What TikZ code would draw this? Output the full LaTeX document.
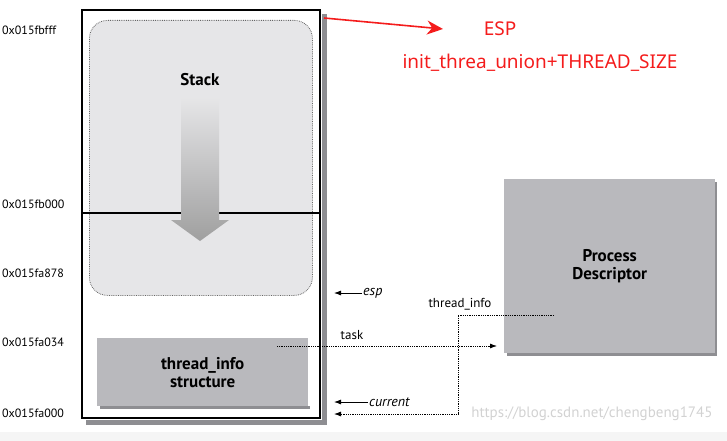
\documentclass[tikz,border=0pt]{standalone}
\usepackage{fontspec}
\setmainfont{PT Sans}
\newfontfamily\notefont{Noto Sans}
\usepackage{xcolor}
\definecolor{boxgray}{HTML}{B9B9BD}
\definecolor{stackgray}{HTML}{E6E6E8}
\definecolor{shadowgray}{HTML}{8E8E92}
\definecolor{notered}{HTML}{F41C1C}
\usepackage{tikz}
\usetikzlibrary{positioning,arrows.meta,calc}

\begin{document}
\begin{tikzpicture}[x=1pt, y=-1pt,
    addr/.style={anchor=west, font=\fontsize{12}{14}\selectfont, inner sep=0pt},
    gbox/.style={fill=boxgray, anchor=north west, align=center, inner sep=0pt,
      font=\fontsize{17}{18}\selectfont\bfseries},
    shadowfill/.style={fill=shadowgray},
    ptr/.style={-{Latex[length=7pt,width=5pt]}, thick},
    dptr/.style={densely dotted, thick},
    lbl/.style={font=\fontsize{13}{14}\selectfont, inner sep=1pt}]
  \useasboundingbox (0,0) rectangle (727,441);
  \fill[gray!8] (0,432) rectangle (727,441);

  % memory area
  \node[draw, line width=2pt, fill=white, anchor=north west,
    minimum width=238, minimum height=408, inner sep=0pt] (mem) at (81,9) {};
  \path[shadowfill] ([xshift=1pt,yshift=-5pt]mem.north east) rectangle ([xshift=6pt,yshift=-6pt]mem.south east);
  \path[shadowfill] ([xshift=5pt,yshift=-1pt]mem.south west) rectangle ([xshift=6pt,yshift=-6pt]mem.south east);
  \node[draw=gray!80!black, densely dotted, thick, rounded corners=18pt, fill=stackgray,
    anchor=north west, minimum width=223, minimum height=275, inner sep=0pt] (stackarea) at (89,20) {};
  \draw[line width=1.3pt] (mem.west |- 0,213) -- (mem.east |- 0,213);
  \shade[top color=stackgray, bottom color=gray!75]
    (181,97) -- (219,97) -- (219,220) -- (229,220) -- (200,241) -- (171,220) -- (181,220) -- cycle;
  \node[font=\fontsize{17}{18}\selectfont\bfseries] (stack) at (200,80) {Stack};

  \node[gbox, minimum width=211, minimum height=68] (tinfo) at (97,338) {thread\_info\\structure};
  \path[shadowfill] ([xshift=3pt]tinfo.south west) rectangle ([xshift=2pt,yshift=-3pt]tinfo.south east);

  % process descriptor
  \node[gbox, minimum width=211, minimum height=174] (pd) at (504,179) {Process\\Descriptor};
  \path[shadowfill] ([xshift=3pt]pd.south west) rectangle ([xshift=2pt,yshift=-3pt]pd.south east);
  \path[shadowfill] ([yshift=-3pt]pd.north east) rectangle ([xshift=2pt]pd.south east);

  % addresses
  \foreach \a/\y in {0x015fbfff/30, 0x015fb000/204, 0x015fa878/273, 0x015fa034/342, 0x015fa000/413}
    \node[addr] (addr\y) at (2,\y) {\a};

  % pointers
  \coordinate (espfrom) at (362,293);
  \coordinate (esptip) at (334,293);
  \draw[ptr] (espfrom) -- (esptip);
  \node[lbl, anchor=west, font=\fontsize{14}{15}\selectfont\itshape] (esp) at (espfrom) {esp};

  \coordinate (taskfrom) at (277,346);
  \draw[dptr, -{Latex[length=7pt,width=5pt]}] (taskfrom) -- ($(pd.west |- taskfrom)+(-7,0)$);
  \node[lbl] (task) at (352,335) {task};

  \coordinate (tifrom) at (554,315);
  \coordinate (tibend) at (458,315);
  \coordinate (ticorner) at (458,414);
  \coordinate (titip) at (334,414);
  \draw[dptr, -{Latex[length=7pt,width=5pt]}] (tifrom) -- (tibend) -- (ticorner) -- (titip);
  \node[lbl, anchor=south] (tilabel) at (460,311) {thread\_info};

  \coordinate (curfrom) at (368,402);
  \coordinate (curtip) at (334,402);
  \draw[ptr] (curfrom) -- (curtip);
  \node[lbl, anchor=west, font=\fontsize{14}{15}\selectfont\itshape] (current) at (curfrom) {current};

  % note in red
  \coordinate (notefrom) at (324,18);
  \node[text=notered, font=\notefont\fontsize{19}{20}\selectfont] (espnote) at (500,29) {ESP};
  \node[text=notered, font=\notefont\fontsize{19}{20}\selectfont] (sizenote) at (540,63) {init\_threa\_union+THREAD\_SIZE};
  \draw[notered, line width=1.6pt, -{Stealth[length=16pt,width=14pt]}] (notefrom) -- (443,29);

  % watermark
  \node[text=gray!35, font=\fontsize{15}{16}\selectfont, anchor=east] (mark) at (716,414) {https://blog.csdn.net/chengbeng1745};
\end{tikzpicture}
\end{document}
